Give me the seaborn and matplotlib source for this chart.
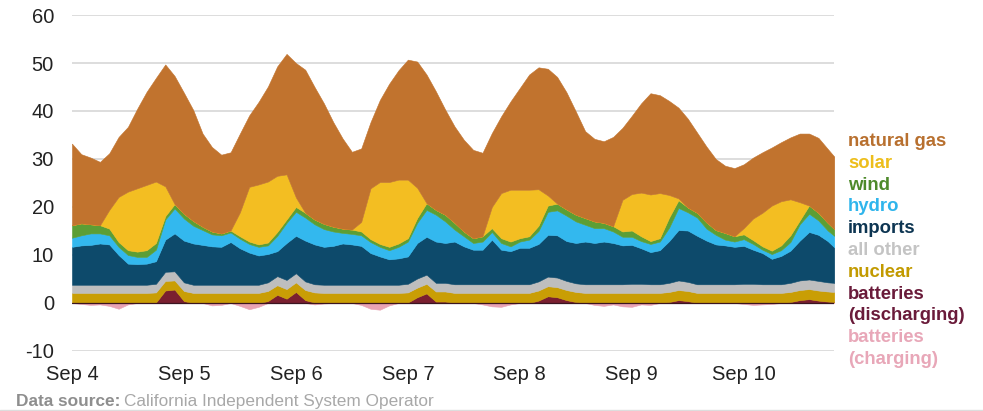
import numpy as np
import pandas as pd
import matplotlib
matplotlib.use("Agg")
import matplotlib.pyplot as plt
import matplotlib.dates as mdates
import seaborn as sns

# ---- time index (every 2 h, last reading at the right edge) ----
times = pd.date_range("2022-09-04 00:00", periods=82, freq="2h").append(
    pd.DatetimeIndex([pd.Timestamp("2022-09-10 19:24")]))

# ---- series values (GW) ----
batt_dis = [0, 0, 0, 0, 0, 0, 0, 0, 0, 0.1, 2.6, 2.8,
            0.4, 0, 0, 0, 0, 0, 0, 0, 0, 0.4, 1.7, 0.9,
            2.3, 0.6, 0.1, 0, 0, 0, 0, 0, 0, 0, 0, 0,
            0.1, 1.2, 2.0, 0.3, 0.3, 0, 0, 0, 0, 0, 0, 0,
            0, 0, 0.5, 1.4, 1.2, 0.6, 0.2, 0, 0, 0, 0, 0,
            0, 0, 0, 0, 0.2, 0.6, 0.4, 0, 0, 0, 0, 0,
            0, 0, 0, 0, 0, 0.2, 0.6, 0.8, 0.5, 0.3, 0.2]
nuclear = [2.1, 2.1, 2.1, 2.1, 2.1, 2.1, 2.1, 2.1, 2.1, 2.1, 2.0, 1.9,
           2.1, 2.1, 2.1, 2.1, 2.1, 2.1, 2.1, 2.1, 2.1, 2.1, 2.0, 2.0,
           2.0, 2.1, 2.1, 2.1, 2.1, 2.1, 2.1, 2.1, 2.1, 2.1, 2.1, 2.1,
           2.1, 2.0, 2.0, 2.1, 2.1, 2.1, 2.1, 2.1, 2.1, 2.1, 2.1, 2.1,
           2.1, 2.1, 2.1, 2.1, 2.1, 2.1, 2.1, 2.1, 2.1, 2.1, 2.1, 2.1,
           2.1, 2.1, 2.1, 2.1, 2.1, 2.1, 2.1, 2.1, 2.1, 2.1, 2.1, 2.1,
           2.1, 2.1, 2.1, 2.1, 2.1, 2.1, 2.1, 2.1, 2.1, 2.1, 2.1]
all_other = [1.7, 1.7, 1.7, 1.7, 1.7, 1.7, 1.7, 1.7, 1.7, 1.8, 1.9, 1.9,
             1.8, 1.7, 1.7, 1.7, 1.7, 1.7, 1.7, 1.7, 1.7, 1.8, 1.9, 1.9,
             1.9, 1.8, 1.7, 1.7, 1.7, 1.7, 1.7, 1.7, 1.7, 1.7, 1.7, 1.7,
             1.8, 1.9, 1.9, 1.8, 1.8, 1.8, 1.8, 1.8, 1.8, 1.8, 1.8, 1.8,
             1.8, 1.8, 1.9, 2.0, 2.0, 1.9, 1.8, 1.8, 1.8, 1.8, 1.8, 1.8,
             1.9, 1.9, 1.8, 1.8, 1.9, 2.0, 1.9, 1.8, 1.8, 1.8, 1.8, 1.8,
             1.9, 1.9, 1.8, 1.8, 1.8, 1.9, 2.0, 2.0, 2.0, 1.9, 1.9]
imports = [7.9, 8.2, 8.3, 8.6, 8.4, 6.2, 4.4, 4.3, 4.4, 4.7, 6.7, 7.9,
           8.7, 8.6, 8.3, 8.0, 7.9, 8.9, 7.6, 6.7, 6.1, 5.9, 5.2, 7.7,
           7.8, 8.5, 8.3, 7.9, 8.1, 8.6, 8.4, 8.1, 6.6, 5.9, 5.3, 5.5,
           5.7, 7.4, 7.9, 8.6, 8.3, 8.9, 7.9, 7.2, 7.2, 9.3, 7.2, 6.9,
           7.6, 7.6, 7.8, 8.7, 8.8, 8.3, 8.4, 8.9, 8.6, 8.9, 8.6, 8.1,
           8.1, 7.4, 6.7, 7.1, 8.7, 10.5, 10.7, 10.1, 9.1, 8.3, 8.1, 7.8,
           7.9, 7.1, 6.5, 5.3, 5.9, 6.7, 8.3, 9.9, 9.6, 8.6, 7.4]
hydro = [1.9, 2.1, 2.4, 2.1, 1.9, 1.7, 1.8, 1.5, 1.4, 2.4, 4.2, 5.2,
         4.6, 3.7, 3.1, 2.5, 2.4, 2.0, 2.0, 1.8, 1.8, 1.8, 3.2, 4.2,
         5.0, 4.8, 4.2, 3.7, 3.0, 2.2, 2.2, 2.2, 2.3, 2.0, 1.9, 2.4,
         3.1, 4.2, 5.6, 5.6, 4.5, 2.5, 2.1, 1.4, 1.7, 1.6, 1.4, 1.0,
         1.3, 1.7, 2.7, 4.8, 5.2, 5.3, 4.5, 3.5, 3.1, 2.8, 2.4, 1.8,
         1.7, 1.5, 1.7, 1.8, 2.8, 4.6, 3.8, 3.8, 2.5, 2.0, 1.2, 1.1,
         1.4, 1.2, 0.7, 1.0, 1.2, 1.8, 3.4, 3.8, 3.0, 2.2, 2.4]
wind = [2.6, 2.5, 1.9, 1.7, 1.4, 1.0, 1.0, 1.1, 1.4, 1.4, 0.7, 0.9,
        1.0, 1.0, 0.7, 0.6, 0.4, 0.4, 0.5, 0.5, 0.5, 0.6, 0.8, 0.7,
        1.0, 1.0, 1.0, 1.1, 1.0, 0.9, 0.9, 0.8, 0.6, 0.6, 0.7, 0.7,
        0.7, 1.0, 1.4, 1.0, 1.4, 1.4, 1.0, 1.0, 1.1, 0.8, 1.0, 1.0,
        0.7, 0.7, 1.1, 1.3, 1.4, 1.3, 1.4, 1.4, 1.4, 1.1, 1.1, 1.1,
        1.3, 1.0, 0.6, 0.7, 2.1, 1.6, 1.0, 1.0, 1.3, 1.0, 1.4, 1.1,
        1.0, 0.8, 0.7, 0.7, 1.0, 1.4, 0.8, 1.7, 1.6, 1.6, 1.4]
solar = [0, 0, 0, 0, 3.9, 9.4, 12.2, 13.2, 13.6, 12.8, 6.2, 0,
         0, 0, 0, 0, 0, 0, 5.0, 11.4, 12.5, 12.7, 11.7, 9.4,
         2.0, 0, 0, 0, 0, 0, 0, 2.0, 10.6, 12.9, 13.5, 13.3,
         12.2, 6.3, 0, 0, 0, 0, 0, 0, 0, 4.4, 9.4, 10.8,
         10.1, 9.7, 7.6, 2.1, 0, 0, 0, 0, 0, 0, 0, 6.6,
         7.6, 9.1, 9.7, 9.4, 4.7, 0.4, 0, 0, 0, 0, 0, 0,
         1.3, 4.5, 7.0, 9.4, 9.2, 7.5, 3.8, 0, 0, 0, 0]
natural_gas = [17.0, 14.4, 13.9, 13.2, 11.8, 12.5, 13.5, 16.6, 19.4, 21.6, 25.4, 26.7,
               25.2, 23.1, 19.4, 17.6, 16.4, 16.3, 16.4, 14.9, 17.2, 19.8, 22.8, 25.1,
               28.0, 29.8, 27.6, 25.1, 21.8, 18.8, 16.2, 15.3, 13.8, 17.1, 20.5, 22.8,
               25.0, 26.3, 26.8, 24.7, 21.9, 20.1, 19.1, 18.4, 17.4, 15.4, 16.0, 18.4,
               21.2, 24.0, 25.4, 26.4, 26.4, 24.4, 21.5, 18.1, 17.2, 17.0, 18.6, 15.0,
               16.3, 18.6, 21.1, 20.4, 19.6, 18.9, 18.5, 16.7, 15.8, 14.8, 14.0, 14.2,
               13.3, 12.7, 12.6, 12.1, 12.3, 12.9, 14.3, 15.0, 15.6, 15.4, 15.1]
batt_chg = [0, -0.2, -0.4, -0.3, -0.6, -1.2, -0.3, 0, 0, 0, 0, 0,
            0, 0, 0, -0.5, -0.4, 0, -0.6, -1.3, -0.8, 0, 0, 0,
            0, 0, -0.3, -0.1, 0, 0, 0, -0.4, -1.2, -1.4, -0.5, 0,
            0, 0, 0, 0, 0, 0, 0, 0, -0.3, -0.7, -0.8, -0.3,
            0, 0, 0, 0, 0, 0, 0, 0, -0.4, -0.6, -0.3, -0.7,
            -0.8, -0.3, -0.4, 0, 0, 0, 0, 0, 0, 0, 0, 0,
            -0.2, -0.4, -0.3, -0.2, 0, 0, 0, 0, 0, 0, 0]

tick_days = pd.date_range("2022-09-04", periods=7, freq="D")
tick_labels = ["Sep 4", "Sep 5", "Sep 6", "Sep 7", "Sep 8", "Sep 9", "Sep 10"]
y_ticks = [-10, 0, 10, 20, 30, 40, 50, 60]

legend_names = ["natural gas", "solar", "wind", "hydro", "imports", "all other",
                "nuclear", "batteries\n(discharging)", "batteries\n(charging)"]

# ---- styles ----
area_colors = {
    "batt_dis": "#7A1F30", "nuclear": "#C99E05", "all_other": "#BEBEBE",
    "imports": "#0D4A6B", "hydro": "#33B8EE", "wind": "#5C9E35",
    "solar": "#F3BE22", "natural_gas": "#C1732E", "batt_chg": "#E9A3B3",
}
label_colors = ["#B8702F", "#EDBE1C", "#4E8A2B", "#2FB5EC", "#0D3552",
                "#C4C4C4", "#C29A00", "#6A1B3A", "#E8A7B8"]

sns.set_theme(style="white")
plt.rcParams["font.family"] = ["Liberation Sans", "DejaVu Sans"]

fig = plt.figure(figsize=(9.83, 4.11), dpi=100)
ax = fig.add_axes([0.0732, 0.146, 0.7755, 0.8175])

layers = [batt_dis, nuclear, all_other, imports, hydro, wind, solar, natural_gas]
keys = ["batt_dis", "nuclear", "all_other", "imports", "hydro", "wind", "solar", "natural_gas"]
cols = [area_colors[k] for k in keys]
polys = ax.stackplot(times, *layers, colors=cols, linewidth=0.4, zorder=2)
for p, c in zip(polys, cols):
    p.set_edgecolor(c)
ax.fill_between(times, batt_chg, 0, color=area_colors["batt_chg"], linewidth=0.4,
                edgecolor=area_colors["batt_chg"], zorder=2)
ax.plot(times, [0] * len(times), color="#3a1420", lw=0.9, zorder=3)

ax.set_xlim(times[0], times[-1])
ax.set_ylim(-10, 60)
ax.set_yticks(y_ticks)
ax.set_yticklabels([str(v) for v in y_ticks])
ax.set_xticks(tick_days)
ax.set_xticklabels(tick_labels)
ax.yaxis.grid(True, color="#DADADA", lw=1.3, zorder=0)
ax.xaxis.grid(False)
ax.set_axisbelow(True)
sns.despine(ax=ax, left=True, bottom=True)
ax.tick_params(axis="both", length=0, labelsize=14.5, colors="#222222")
ax.tick_params(axis="y", pad=13)
ax.tick_params(axis="x", pad=10)

# legend as coloured text
y0 = 141.5
step = 21.8
row = 0
for name, col in zip(legend_names, label_colors):
    for line in name.split("\n"):
        fig.text(848 / 983, 1 - (y0 + row * step) / 411, line, color=col,
                 fontsize=13.3, fontweight="bold", va="center", ha="left")
        row += 1

fig.text(16 / 983, 1 - 401 / 411, "Data source:", color="#8E8E8E",
         fontsize=12.4, fontweight="bold", va="center", ha="left")
fig.text(124 / 983, 1 - 401 / 411, "California Independent System Operator",
         color="#A8A8A8", fontsize=12.4, va="center", ha="left")
fig.add_artist(plt.Line2D([0, 1], [1 - 409.5 / 411] * 2, color="#DDDDDD", lw=1))

fig.savefig("out.png", dpi=100)
